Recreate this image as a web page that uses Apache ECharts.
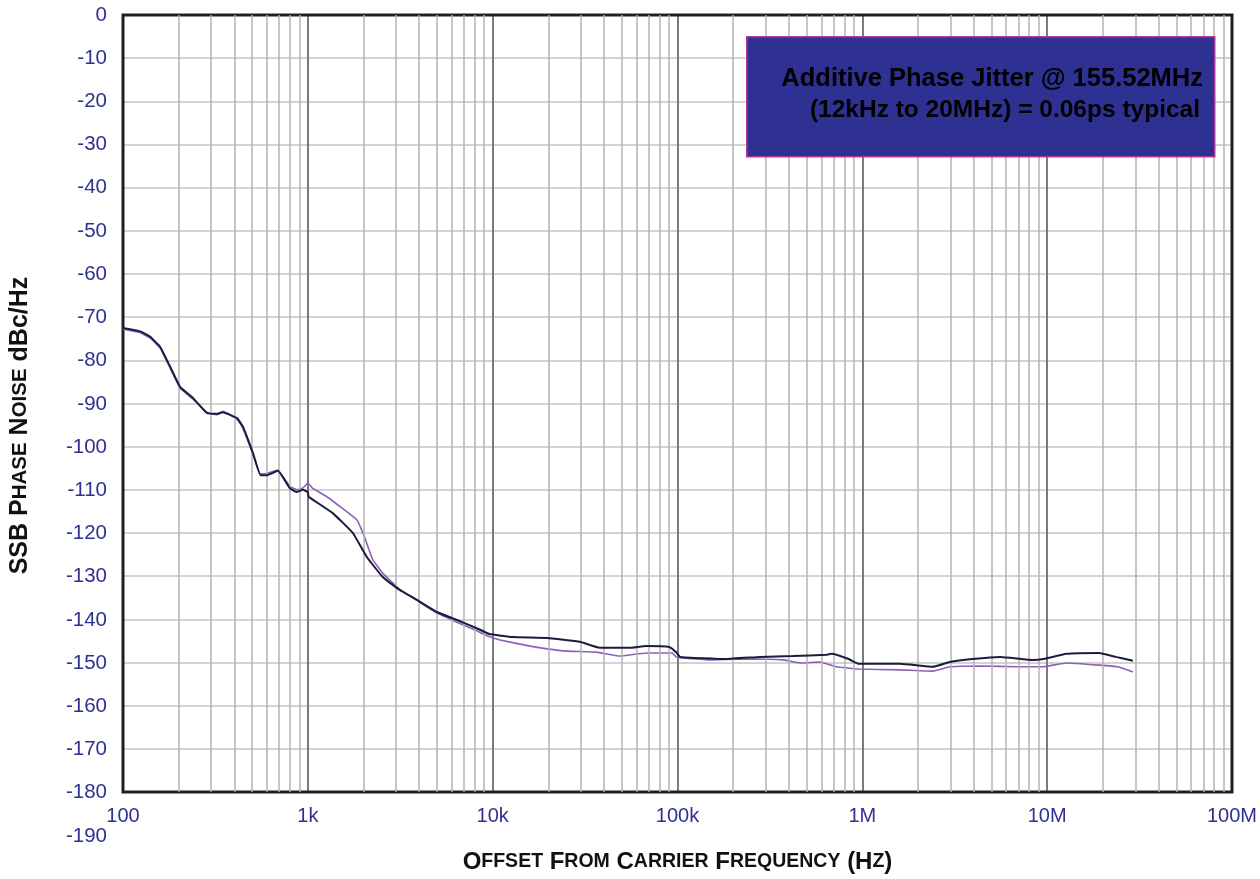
<!DOCTYPE html>
<html>
<head>
<meta charset="utf-8">
<title>SSB Phase Noise</title>
<script src="https://cdn.jsdelivr.net/npm/echarts@6/dist/echarts.min.js"></script>
<style>
    html, body { margin: 0; padding: 0; background: #ffffff; }
    #chart { width: 1260px; height: 879px; }
</style>
</head>
<body>
<div id="chart"></div>
<script>
// offset frequency (Hz) and noise (dBc/Hz)
const freqDark = [100, 124, 140, 159, 180, 204, 239, 284, 322, 347, 414, 446, 505, 554, 601, 689, 798, 873, 940, 1000,
    1010, 1364, 1753, 2080, 2542, 3138, 3893, 4978, 6368, 8147, 9583, 12880, 19700, 29610, 37920, 54900, 67800, 90200,
    98300, 103300, 183000, 280000, 420000, 643000, 682000, 844000, 955000, 1597000, 2410000, 2970000, 3940000,
    5580000, 8420000, 9530000, 12700000, 19100000, 23500000, 29100000];
const noiseDark = [-72.5, -73.3, -74.5, -76.9, -81.5, -86.2, -88.7, -92.2, -92.4, -92.0, -93.4, -95.4, -101.5, -106.6, -106.6, -105.6, -109.6, -110.5, -110.0, -110.5,
    -111.6, -115.4, -120.0, -125.5, -130.2, -133.2, -135.5, -138.3, -140.1, -142.0, -143.4, -144.1, -144.3, -145.2, -146.6, -146.6, -146.2, -146.4,
    -147.6, -148.7, -149.2, -148.7, -148.5, -148.2, -148.0, -149.2, -150.3, -150.3, -151.0, -149.9, -149.2,
    -148.7, -149.4, -149.2, -148.0, -147.8, -148.7, -149.6];

const freqViolet = [100, 124, 140, 159, 180, 204, 239, 284, 322, 347, 414, 446, 505, 554, 601, 689, 798, 873, 940, 1000,
    1060, 1268, 1845, 2024, 2246, 2542, 3138, 3893, 4978, 6368, 8147, 9583, 10965, 15960, 23980, 36550, 48500, 67800,
    93600, 98300, 103300, 150000, 227000, 373000, 463000, 591000, 724000, 955000, 1597000, 2410000, 2970000,
    4450000, 6890000, 9530000, 12700000, 19100000, 24200000, 29100000];
const noiseViolet = [-72.8, -73.6, -74.8, -77.2, -81.8, -86.5, -89.0, -92.0, -92.6, -91.8, -93.6, -95.8, -101.8, -106.3, -106.2, -105.4, -109.2, -110.0, -109.6, -108.4,
    -109.6, -111.6, -117.0, -120.9, -126.2, -129.3, -133.0, -135.6, -138.5, -140.6, -142.6, -144.0, -144.8, -146.2, -147.3, -147.6, -148.5, -147.8,
    -147.8, -148.7, -148.9, -149.4, -149.2, -149.4, -150.1, -149.9, -151.0, -151.5, -151.7, -152.0, -151.0,
    -150.8, -151.0, -151.0, -150.1, -150.6, -151.0, -152.2];

const xTickValues = [100, 1000, 10000, 100000, 1000000, 10000000, 100000000];
const xTickLabels = ["100", "1k", "10k", "100k", "1M", "10M", "100M"];
const minorSteps = [2, 3, 4, 5, 6, 7, 8, 9];

const annotationLines = [
    "Additive Phase Jitter @ 155.52MHz",
    "(12kHz to 20MHz) = 0.06ps typical"
];

const font = "Liberation Sans";
const labelBlue = "#2e3192";

function zip(xs, ys) {
    return xs.map((x, i) => [x, ys[i]]);
}

// minor vertical grid lines of the log axis (2..9 in each decade)
const minorLines = [];
xTickValues.slice(0, -1).forEach(decade => {
    minorSteps.forEach(step => minorLines.push({ xAxis: decade * step }));
});

const chart = echarts.init(document.getElementById("chart"), null, { renderer: "canvas" });

const option = {
    backgroundColor: "#ffffff",
    animation: false,
    textStyle: { fontFamily: font },
    grid: [
        { left: 123, top: 15, width: 1109, height: 777, show: true, borderColor: "#231f20", borderWidth: 3, backgroundColor: "transparent", z: 3 },
        // taller grid that only carries the y labels down to -190
        { left: 123, top: 15, width: 1109, height: 821, show: false }
    ],
    xAxis: [
        {
            gridIndex: 0,
            type: "log",
            logBase: 10,
            min: 100,
            max: 100000000,
            axisLine: { show: false },
            axisTick: { show: false },
            axisLabel: {
                color: labelBlue,
                fontSize: 20,
                margin: 14,
                formatter: value => {
                    const i = xTickValues.findIndex(v => Math.abs(v - value) / v < 1e-6);
                    return i >= 0 ? xTickLabels[i] : "";
                }
            },
            splitLine: { show: true, lineStyle: { color: "#7a7a7a", width: 2 } },
            name: "O{s|FFSET} F{s|ROM} C{s|ARRIER} F{s|REQUENCY} (H{s|Z})",
            nameLocation: "middle",
            nameGap: 58,
            nameTextStyle: {
                color: "#111111",
                fontSize: 24,
                fontWeight: "bold",
                rich: { s: { fontSize: 19.5, fontWeight: "bold", color: "#111111" } }
            }
        },
        {
            gridIndex: 1,
            type: "value",
            min: 0,
            max: 1,
            show: false
        }
    ],
    yAxis: [
        {
            gridIndex: 0,
            type: "value",
            min: -180,
            max: 0,
            interval: 10,
            axisLine: { show: false },
            axisTick: { show: false },
            axisLabel: { show: false },
            splitLine: { show: true, lineStyle: { color: "#c4c4c4", width: 1.5 } }
        },
        {
            gridIndex: 1,
            type: "value",
            min: -190,
            max: 0,
            interval: 10,
            axisLine: { show: false },
            axisTick: { show: false },
            axisLabel: { color: labelBlue, fontSize: 20.5, margin: 16 },
            splitLine: { show: false },
            name: "SSB P{s|HASE} N{s|OISE} dBc/Hz",
            nameLocation: "middle",
            nameGap: 90,
            nameRotate: 90,
            nameTextStyle: {
                color: "#111111",
                fontSize: 25,
                fontWeight: "bold",
                rich: { s: { fontSize: 20.5, fontWeight: "bold", color: "#111111" } }
            }
        }
    ],
    series: [
        {
            name: "minor grid",
            type: "line",
            xAxisIndex: 0,
            yAxisIndex: 0,
            data: [],
            z: 1,
            silent: true,
            markLine: {
                silent: true,
                symbol: "none",
                label: { show: false },
                lineStyle: { color: "#b3b3b3", width: 1.5, type: "solid" },
                data: minorLines
            }
        },
        {
            name: "violet",
            type: "line",
            xAxisIndex: 0,
            yAxisIndex: 0,
            data: zip(freqViolet, noiseViolet),
            showSymbol: false,
            smooth: 0.1,
            z: 4,
            lineStyle: { color: "#8c5fba", width: 1.6 }
        },
        {
            name: "dark",
            type: "line",
            xAxisIndex: 0,
            yAxisIndex: 0,
            data: zip(freqDark, noiseDark),
            showSymbol: false,
            smooth: 0.1,
            z: 5,
            lineStyle: { color: "#1d1a3f", width: 2 }
        }
    ],
    graphic: [
        {
            type: "rect",
            left: 746,
            top: 36,
            z: 10,
            shape: { width: 468, height: 120 },
            style: { fill: "#2e3192", stroke: "#b0399c", lineWidth: 1.5 }
        },
        {
            type: "text",
            x: 1203,
            y: 79,
            z: 11,
            style: { text: annotationLines[0], fill: "#000000", font: "bold 25.5px 'Liberation Sans'", align: "right", verticalAlign: "middle" }
        },
        {
            type: "text",
            x: 1200,
            y: 110,
            z: 11,
            style: { text: annotationLines[1], fill: "#000000", font: "bold 24.5px 'Liberation Sans'", align: "right", verticalAlign: "middle" }
        }
    ]
};

chart.setOption(option);
</script>
</body>
</html>
